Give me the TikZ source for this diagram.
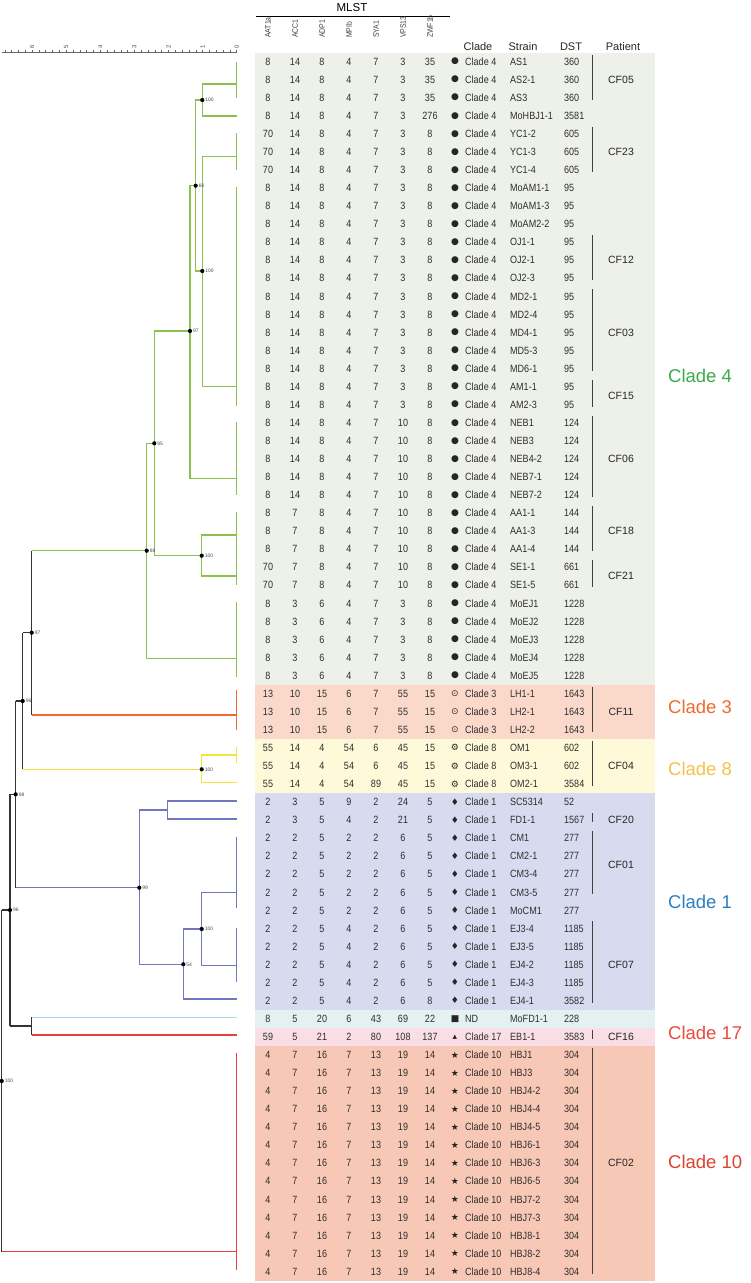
\documentclass[tikz,border=0pt]{standalone}
\usepackage{fontspec}
\setmainfont{Liberation Sans}
\newfontfamily\narrowfont[FakeStretch=0.86]{Liberation Sans}
\newfontfamily\symfont{DejaVu Sans}
\usetikzlibrary{positioning}

% band and tree colours
\definecolor{bandfour}{HTML}{EEF0EA}
\definecolor{bandthree}{HTML}{FAD9CB}
\definecolor{bandeight}{HTML}{FEFAD9}
\definecolor{bandone}{HTML}{D6DBEF}
\definecolor{bandnd}{HTML}{E3F1F2}
\definecolor{bandseventeen}{HTML}{F9DDE7}
\definecolor{bandten}{HTML}{F8C8B6}
\definecolor{cfour}{HTML}{8CC152}
\definecolor{cthree}{HTML}{F26A2E}
\definecolor{ceight}{HTML}{F3E33A}
\definecolor{cone}{HTML}{7277C0}
\definecolor{cnd}{HTML}{A9D8E6}
\definecolor{cten}{HTML}{E8413C}
\definecolor{cstem}{HTML}{333333}
\definecolor{labfour}{HTML}{3BAA4A}
\definecolor{labthree}{HTML}{EF6A2D}
\definecolor{labeight}{HTML}{F4C24A}
\definecolor{labone}{HTML}{2D7CC4}
\definecolor{labseventeen}{HTML}{E94B3C}
\definecolor{labten}{HTML}{D9432F}

\tikzset{
  branch/.style={line width=1.3pt},
  bootdot/.style={fill=black,circle,inner sep=1.5pt},
  bootlab/.style={font=\fontsize{5}{5}\selectfont,text=black!70,inner sep=0.6pt},
  cell/.style={font=\narrowfont\fontsize{10.5}{11}\selectfont,text=black!82,inner sep=0pt,text height=7.5pt,text depth=0pt},
  markcell/.style={font=\symfont\fontsize{9}{9}\selectfont,text=black!85,inner sep=0pt},
  colhead/.style={font=\narrowfont\fontsize{8}{8}\selectfont,text=black!75,rotate=90,anchor=west,inner sep=0pt},
  tabhead/.style={font=\fontsize{11}{12}\selectfont,text=black!85,inner sep=0pt},
  patient/.style={font=\fontsize{10.5}{11}\selectfont,text=black!85,inner sep=0pt},
  cladelab/.style={font=\fontsize{18.5}{19}\selectfont,anchor=west,inner sep=0pt},
  scalelab/.style={font=\fontsize{6}{6}\selectfont,text=black!70,rotate=90,inner sep=0pt},
}

\begin{document}
\begin{tikzpicture}[x=1pt,y=-1pt]
  \useasboundingbox (0,0) rectangle (750,1283);

  % coloured bands behind the table
  \fill[bandfour] (255,52.5) rectangle (655,684.6);
  \fill[bandthree] (255,684.6) rectangle (655,738.8);
  \fill[bandeight] (255,738.8) rectangle (655,793);
  \fill[bandone] (255,793) rectangle (655,1009.6);
  \fill[bandnd] (255,1009.6) rectangle (655,1027.7);
  \fill[bandseventeen] (255,1027.7) rectangle (655,1045.8);
  \fill[bandten] (255,1045.8) rectangle (655,1281);

  % scale bar above the tree
  \draw[black!60,line width=0.6pt] (1.7,52) -- (236.7,52);
  \foreach \t in {0,...,34}
    \draw[black!60,line width=0.5pt] ({236.7-6.82*\t},52) -- ++(0,-1.8);
  \foreach \k in {0,...,6}
    \node[scalelab] (sc\k) at ({236.7-34.1*\k},46.5) {\k};

  % MLST header
  \node[font=\fontsize{11.5}{12}\selectfont,inner sep=0pt] (mlst) at (352,8) {MLST};
  \draw[line width=1.5pt] (256,16.5) -- (450,16.5);
  \foreach \h [count=\c from 0] in {AAT1a,ACC1,ADP1,MPIb,SYA1,VPS13,ZWF1b}
    \node[colhead] (h\c) at ({268+27*\c},38) {\h};
  \node[tabhead] (hclade) at (478,46.7) {Clade};
  \node[tabhead] (hstrain) at (523,46.7) {Strain};
  \node[tabhead] (hdst) at (571,46.7) {DST};
  \node[tabhead] (hpatient) at (623,46.7) {Patient};

  % table rows: profile / mark / clade / strain / DST
  \foreach \prof/\mk/\clade/\strain/\dst [count=\r from 0] in {
    {8,14,8,4,7,3,35}/●/Clade 4/AS1/360,
    {8,14,8,4,7,3,35}/●/Clade 4/AS2-1/360,
    {8,14,8,4,7,3,35}/●/Clade 4/AS3/360,
    {8,14,8,4,7,3,276}/●/Clade 4/MoHBJ1-1/3581,
    {70,14,8,4,7,3,8}/●/Clade 4/YC1-2/605,
    {70,14,8,4,7,3,8}/●/Clade 4/YC1-3/605,
    {70,14,8,4,7,3,8}/●/Clade 4/YC1-4/605,
    {8,14,8,4,7,3,8}/●/Clade 4/MoAM1-1/95,
    {8,14,8,4,7,3,8}/●/Clade 4/MoAM1-3/95,
    {8,14,8,4,7,3,8}/●/Clade 4/MoAM2-2/95,
    {8,14,8,4,7,3,8}/●/Clade 4/OJ1-1/95,
    {8,14,8,4,7,3,8}/●/Clade 4/OJ2-1/95,
    {8,14,8,4,7,3,8}/●/Clade 4/OJ2-3/95,
    {8,14,8,4,7,3,8}/●/Clade 4/MD2-1/95,
    {8,14,8,4,7,3,8}/●/Clade 4/MD2-4/95,
    {8,14,8,4,7,3,8}/●/Clade 4/MD4-1/95,
    {8,14,8,4,7,3,8}/●/Clade 4/MD5-3/95,
    {8,14,8,4,7,3,8}/●/Clade 4/MD6-1/95,
    {8,14,8,4,7,3,8}/●/Clade 4/AM1-1/95,
    {8,14,8,4,7,3,8}/●/Clade 4/AM2-3/95,
    {8,14,8,4,7,10,8}/●/Clade 4/NEB1/124,
    {8,14,8,4,7,10,8}/●/Clade 4/NEB3/124,
    {8,14,8,4,7,10,8}/●/Clade 4/NEB4-2/124,
    {8,14,8,4,7,10,8}/●/Clade 4/NEB7-1/124,
    {8,14,8,4,7,10,8}/●/Clade 4/NEB7-2/124,
    {8,7,8,4,7,10,8}/●/Clade 4/AA1-1/144,
    {8,7,8,4,7,10,8}/●/Clade 4/AA1-3/144,
    {8,7,8,4,7,10,8}/●/Clade 4/AA1-4/144,
    {70,7,8,4,7,10,8}/●/Clade 4/SE1-1/661,
    {70,7,8,4,7,10,8}/●/Clade 4/SE1-5/661,
    {8,3,6,4,7,3,8}/●/Clade 4/MoEJ1/1228,
    {8,3,6,4,7,3,8}/●/Clade 4/MoEJ2/1228,
    {8,3,6,4,7,3,8}/●/Clade 4/MoEJ3/1228,
    {8,3,6,4,7,3,8}/●/Clade 4/MoEJ4/1228,
    {8,3,6,4,7,3,8}/●/Clade 4/MoEJ5/1228,
    {13,10,15,6,7,55,15}/⊙/Clade 3/LH1-1/1643,
    {13,10,15,6,7,55,15}/⊙/Clade 3/LH2-1/1643,
    {13,10,15,6,7,55,15}/⊙/Clade 3/LH2-2/1643,
    {55,14,4,54,6,45,15}/⚙/Clade 8/OM1/602,
    {55,14,4,54,6,45,15}/⚙/Clade 8/OM3-1/602,
    {55,14,4,54,89,45,15}/⚙/Clade 8/OM2-1/3584,
    {2,3,5,9,2,24,5}/♦/Clade 1/SC5314/52,
    {2,3,5,4,2,21,5}/♦/Clade 1/FD1-1/1567,
    {2,2,5,2,2,6,5}/♦/Clade 1/CM1/277,
    {2,2,5,2,2,6,5}/♦/Clade 1/CM2-1/277,
    {2,2,5,2,2,6,5}/♦/Clade 1/CM3-4/277,
    {2,2,5,2,2,6,5}/♦/Clade 1/CM3-5/277,
    {2,2,5,2,2,6,5}/♦/Clade 1/MoCM1/277,
    {2,2,5,4,2,6,5}/♦/Clade 1/EJ3-4/1185,
    {2,2,5,4,2,6,5}/♦/Clade 1/EJ3-5/1185,
    {2,2,5,4,2,6,5}/♦/Clade 1/EJ4-2/1185,
    {2,2,5,4,2,6,5}/♦/Clade 1/EJ4-3/1185,
    {2,2,5,4,2,6,8}/♦/Clade 1/EJ4-1/3582,
    {8,5,20,6,43,69,22}/■/ND/MoFD1-1/228,
    {59,5,21,2,80,108,137}/▴/Clade 17/EB1-1/3583,
    {4,7,16,7,13,19,14}/★/Clade 10/HBJ1/304,
    {4,7,16,7,13,19,14}/★/Clade 10/HBJ3/304,
    {4,7,16,7,13,19,14}/★/Clade 10/HBJ4-2/304,
    {4,7,16,7,13,19,14}/★/Clade 10/HBJ4-4/304,
    {4,7,16,7,13,19,14}/★/Clade 10/HBJ4-5/304,
    {4,7,16,7,13,19,14}/★/Clade 10/HBJ6-1/304,
    {4,7,16,7,13,19,14}/★/Clade 10/HBJ6-3/304,
    {4,7,16,7,13,19,14}/★/Clade 10/HBJ6-5/304,
    {4,7,16,7,13,19,14}/★/Clade 10/HBJ7-2/304,
    {4,7,16,7,13,19,14}/★/Clade 10/HBJ7-3/304,
    {4,7,16,7,13,19,14}/★/Clade 10/HBJ8-1/304,
    {4,7,16,7,13,19,14}/★/Clade 10/HBJ8-2/304,
    {4,7,16,7,13,19,14}/★/Clade 10/HBJ8-4/304}{
    \pgfmathsetmacro\ry{61.5+18.06*\r}
    \foreach \v [count=\c from 0] in \prof
      \node[cell] (m\r-\c) at ({268+27*\c},\ry) {\v};
    \node[markcell] (mk\r) at (455,\ry) {\mk};
    \node[cell,anchor=west] (cl\r) at (465,\ry) {\clade};
    \node[cell,anchor=west] (st\r) at (510,\ry) {\strain};
    \node[cell,anchor=west] (ds\r) at (564,\ry) {\dst};
  }

  % patients: a bar over their rows and the name beside it
  \foreach \pat/\ra/\rb in {CF05/0/2,CF23/4/6,CF12/10/12,CF03/13/17,CF15/18/19,
      CF06/20/24,CF18/25/27,CF21/28/29,CF11/35/37,CF04/38/40,CF20/42/42,
      CF01/43/46,CF07/48/52,CF16/54/54,CF02/55/67}{
    \draw[black!75,line width=1pt] (592,{61.5+18.06*\ra-7}) -- (592,{61.5+18.06*\rb+2});
    \node[patient] (\pat) at (621,{61.5+18.06*(\ra+\rb)/2}) {\pat};
  }

  % clade names on the right
  \node[cladelab,text=labfour] (lab4) at (668,376) {Clade 4};
  \node[cladelab,text=labthree] (lab3) at (668,707) {Clade 3};
  \node[cladelab,text=labeight] (lab8) at (668,769) {Clade 8};
  \node[cladelab,text=labone] (lab1) at (668,902) {Clade 1};
  \node[cladelab,text=labseventeen] (lab17) at (668,1033) {Clade 17};
  \node[cladelab,text=labten] (lab10) at (668,1162) {Clade 10};

  % tips of the tree
  \coordinate (tAS) at (236.7,84);
  \coordinate (tHBJ) at (236.7,116);
  \coordinate (tYC) at (236.7,156.7);
  \coordinate (tAM) at (236.7,386.7);
  \coordinate (tNEB) at (236.7,478.3);
  \coordinate (tAA) at (236.7,535);
  \coordinate (tSE) at (236.7,576);
  \coordinate (tMoEJ) at (236.7,658.3);
  \coordinate (tLH) at (236.7,715);
  \coordinate (tOM) at (236.7,755);
  \coordinate (tOMb) at (236.7,782.7);
  \coordinate (tSC) at (236.7,801);
  \coordinate (tFD) at (236.7,819);
  \coordinate (tCM) at (236.7,892.3);
  \coordinate (tEJ) at (236.7,965.7);
  \coordinate (tEJb) at (236.7,999);
  \coordinate (tND) at (236.7,1017.3);
  \coordinate (tEB) at (236.7,1035);
  \coordinate (tHB) at (236.7,1251.7);

  % forks of the tree
  \coordinate (g1) at (202.3,100);
  \coordinate (g2) at (195.7,185.7);
  \coordinate (g3) at (202.3,271);
  \coordinate (g4) at (190,331);
  \coordinate (g5) at (201.7,555.7);
  \coordinate (g6) at (154.3,443.3);
  \coordinate (g7) at (146.7,550.7);
  \coordinate (y1) at (201.7,769.3);
  \coordinate (b1) at (139.3,887.7);
  \coordinate (b2) at (167.7,810);
  \coordinate (b3) at (183.3,964.3);
  \coordinate (b4) at (201.7,929);
  \coordinate (k1) at (31.7,632.7);
  \coordinate (k2) at (22.7,701);
  \coordinate (k3) at (15.7,794.3);
  \coordinate (k4) at (31.7,1026);
  \coordinate (k5) at (10,910);
  \coordinate (k6) at (1.7,1081);

  % identical strains stacked at the tips
  \foreach \ya/\yb/\col in {62/98/cfour,133/170/cfour,187/406/cfour,422/495/cfour,
      512/585/cfour,602/677/cfour,690/730/cthree,746.7/763.3/ceight,
      836.7/908.3/cone,928/981.7/cone,1053/1270/cten}
    \draw[branch,\col] (236.7,\ya) -- (236.7,\yb);

  % clade 4 branches
  \draw[branch,cfour] (tAS) -| (g1) |- (tHBJ);
  \draw[branch,cfour] (tYC) -| (g3) |- (tAM);
  \draw[branch,cfour] (g1) -| (g2) |- (g3);
  \draw[branch,cfour] (g2) -| (g4) |- (tNEB);
  \draw[branch,cfour] (tAA) -| (g5) |- (tSE);
  \draw[branch,cfour] (g4) -| (g6) |- (g5);
  \draw[branch,cfour] (g6) -| (g7) |- (tMoEJ);

  % clade 8 and clade 1 branches
  \draw[branch,ceight] (tOM) -| (y1) |- (tOMb);
  \draw[branch,cone] (tSC) -| (b2) |- (tFD);
  \draw[branch,cone] (tCM) -| (b4) |- (tEJ);
  \draw[branch,cone] (b4) -| (b3) |- (tEJb);
  \draw[branch,cone] (b2) -| (b1) |- (b3);
  \draw[branch,cnd] (k4 |- tND) -- (tND);
  \draw[branch,cten] (k4 |- tEB) -- (tEB);

  % backbone, each child branch in its clade colour
  \draw[branch,cstem] (k1 |- g7) -- (k1 |- tLH);
  \draw[branch,cfour] (k1 |- g7) -- (g7);
  \draw[branch,cthree] (k1 |- tLH) -- (tLH);
  \draw[branch,cstem] (k2 |- k1) -- (k2 |- y1);
  \draw[branch,cstem] (k2 |- k1) -- (k1);
  \draw[branch,ceight] (k2 |- y1) -- (y1);
  \draw[branch,cstem] (k3 |- k2) -- (k3 |- b1);
  \draw[branch,cstem] (k3 |- k2) -- (k2);
  \draw[branch,cone] (k3 |- b1) -- (b1);
  \draw[branch,cstem] (k4 |- tND) -- (k4 |- tEB);
  \draw[branch,cstem] (k5 |- k3) -- (k5 |- k4);
  \draw[branch,cstem] (k5 |- k3) -- (k3);
  \draw[branch,cstem] (k5 |- k4) -- (k4);
  \draw[branch,cstem] (k6 |- k5) -- (k6 |- tHB);
  \draw[branch,cstem] (k6 |- k5) -- (k5);
  \draw[branch,cten] (k6 |- tHB) -- (tHB);

  % bootstrap values on the forks
  \foreach \f/\bv in {g1/100,g2/60,g3/100,g4/97,g5/100,g6/95,g7/88,y1/100,
      b1/99,b3/54,b4/100,k1/97,k2/96,k3/98,k5/96,k6/100}
    \node[bootdot,label={[bootlab]right:\bv}] (d\f) at (\f) {};
\end{tikzpicture}
\end{document}
